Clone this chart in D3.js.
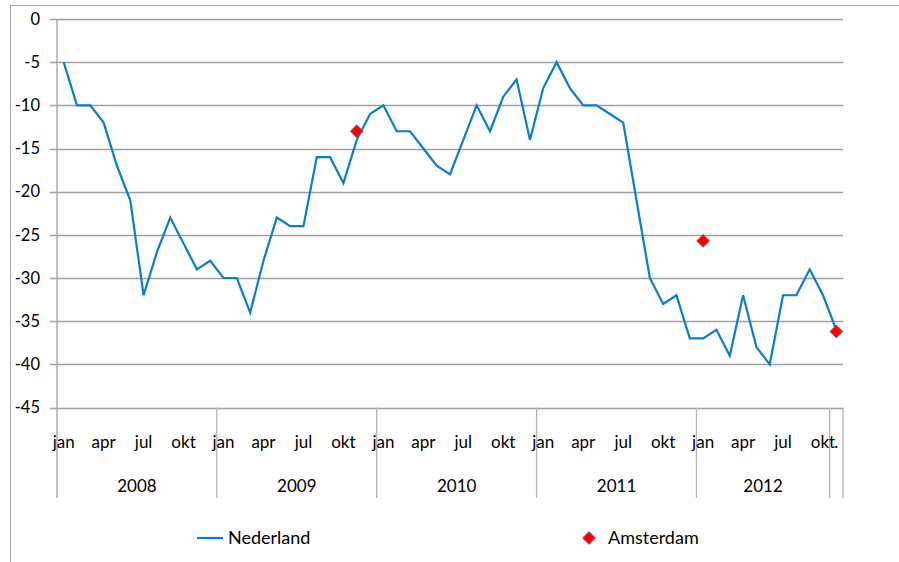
<!DOCTYPE html>
<html>
<head>
<meta charset="utf-8">
<script src="https://cdn.jsdelivr.net/npm/d3@7"></script>
<style>
	body { margin: 0; background: #fff; }
	text { font-family: Lato, "Open Sans", sans-serif; fill: #000; }
</style>
</head>
<body>
<div id="chart"></div>
<script>
	// months shown under the axis, one per category (last one is a lone "." slot)
	var monthLabels = ["jan","","","apr","","","jul","","","okt","",""];
	var years = ["2008", "2009", "2010", "2011", "2012", ""];
	var monthsPerYear = [12, 12, 12, 12, 10, 1];

	// Nederland, jan 2008 .. nov 2012
	var nederland = [
		-5, -10, -10, -12, -17, -21, -32, -27, -23, -26, -29, -28,
		-30, -30, -34, -28, -23, -24, -24, -16, -16, -19, -14, -11,
		-10, -13, -13, -15, -17, -18, -14, -10, -13, -9, -7, -14,
		-8, -5, -8, -10, -10, -11, -12, -21, -30, -33, -32, -37,
		-37, -36, -39, -32, -38, -40, -32, -32, -29, -32, -36
	];
	// Amsterdam, only a few measurements (category index, value)
	var amsterdamIdx = [22, 48, 58];
	var amsterdamVal = [-13, -25.7, -36.2];

	var yTicks = [0, -5, -10, -15, -20, -25, -30, -35, -40, -45];

	var width = 899, height = 562;
	var svg = d3.select("#chart").append("svg")
		.attr("width", width)
		.attr("height", height);

	// build the category list
	var cats = [];
	years.forEach(function(yr, yi) {
		for (var m = 0; m < monthsPerYear[yi]; m++) {
			cats.push({ year: yr, label: yr === "" ? "." : monthLabels[m] });
		}
	});

	var x = d3.scaleBand()
		.domain(d3.range(cats.length))
		.range([57, 843])
		.padding(0);

	var y = d3.scaleLinear()
		.domain([-45, 0])
		.range([407.5, 19]);

	function cx(i) { return x(i) + x.bandwidth() / 2; }

	// outer chart frame
	svg.append("rect")
		.attr("x", 10.5).attr("y", 5.5)
		.attr("width", 1000).attr("height", 1000)
		.attr("fill", "none")
		.attr("stroke", "#a6a6a6")
		.attr("stroke-width", 1);

	// gridlines with tick stubs
	svg.append("g")
		.selectAll("line")
		.data(yTicks)
		.enter().append("line")
		.attr("x1", 50).attr("x2", 843)
		.attr("y1", function(d) { return Math.round(y(d)) + 0.5; })
		.attr("y2", function(d) { return Math.round(y(d)) + 0.5; })
		.attr("stroke", "#a0a0a0")
		.attr("stroke-width", 1.3);

	// y axis line
	svg.append("line")
		.attr("x1", 57).attr("x2", 57)
		.attr("y1", y(0)).attr("y2", 498)
		.attr("stroke", "#a0a0a0")
		.attr("stroke-width", 1.3);

	svg.append("g")
		.selectAll("text")
		.data(yTicks)
		.enter().append("text")
		.attr("x", 40)
		.attr("y", function(d) { return y(d); })
		.attr("dy", "0.35em")
		.attr("text-anchor", "end")
		.style("font-size", "16.5px")
		.text(function(d) { return d; });

	// year separators
	var bounds = [];
	var acc = 0;
	monthsPerYear.forEach(function(n) { acc += n; bounds.push(acc); });
	svg.append("g")
		.selectAll("line")
		.data(bounds)
		.enter().append("line")
		.attr("x1", function(d) { return d < cats.length ? x(d) : x.range()[1]; })
		.attr("x2", function(d) { return d < cats.length ? x(d) : x.range()[1]; })
		.attr("y1", y(-45))
		.attr("y2", 498)
		.attr("stroke", "#b4b4b4")
		.attr("stroke-width", 1.3);

	// month labels
	svg.append("g")
		.selectAll("text")
		.data(cats)
		.enter().append("text")
		.attr("x", function(d, i) { return cx(i); })
		.attr("y", 448)
		.attr("text-anchor", "middle")
		.style("font-size", "17px")
		.text(function(d) { return d.label; });

	// year labels
	var start = 0;
	years.forEach(function(yr, yi) {
		var a = x(start), b = x(start + monthsPerYear[yi] - 1) + x.bandwidth();
		svg.append("text")
			.attr("x", (a + b) / 2)
			.attr("y", 492)
			.attr("text-anchor", "middle")
			.style("font-size", "17px")
			.text(yr);
		start += monthsPerYear[yi];
	});

	// Nederland line
	var line = d3.line()
		.x(function(d, i) { return cx(i); })
		.y(function(d) { return y(d); });

	svg.append("path")
		.datum(nederland)
		.attr("d", line)
		.attr("fill", "none")
		.attr("stroke", "#0a7ec8")
		.attr("stroke-width", 2.2)
		.attr("stroke-linejoin", "miter");

	// Amsterdam diamonds
	var diamond = d3.symbol().type(d3.symbolSquare).size(82);
	svg.append("g")
		.selectAll("path")
		.data(amsterdamIdx)
		.enter().append("path")
		.attr("d", diamond)
		.attr("transform", function(d, k) {
			return "translate(" + cx(d) + "," + y(amsterdamVal[k]) + ") rotate(45)";
		})
		.attr("fill", "#ff0000")
		.attr("stroke", "#7060a0")
		.attr("stroke-width", 0.8);

	// legend
	var leg = svg.append("g");
	leg.append("line")
		.attr("x1", 197).attr("x2", 223)
		.attr("y1", 538).attr("y2", 538)
		.attr("stroke", "#0a7ec8")
		.attr("stroke-width", 2.2);
	leg.append("text")
		.attr("x", 228).attr("y", 538)
		.attr("dy", "0.35em")
		.style("font-size", "18px")
		.text("Nederland");
	leg.append("path")
		.attr("d", diamond)
		.attr("transform", "translate(589,538) rotate(45)")
		.attr("fill", "#ff0000")
		.attr("stroke", "#7060a0")
		.attr("stroke-width", 0.8);
	leg.append("text")
		.attr("x", 608).attr("y", 538)
		.attr("dy", "0.35em")
		.style("font-size", "18px")
		.text("Amsterdam");
</script>
</body>
</html>
